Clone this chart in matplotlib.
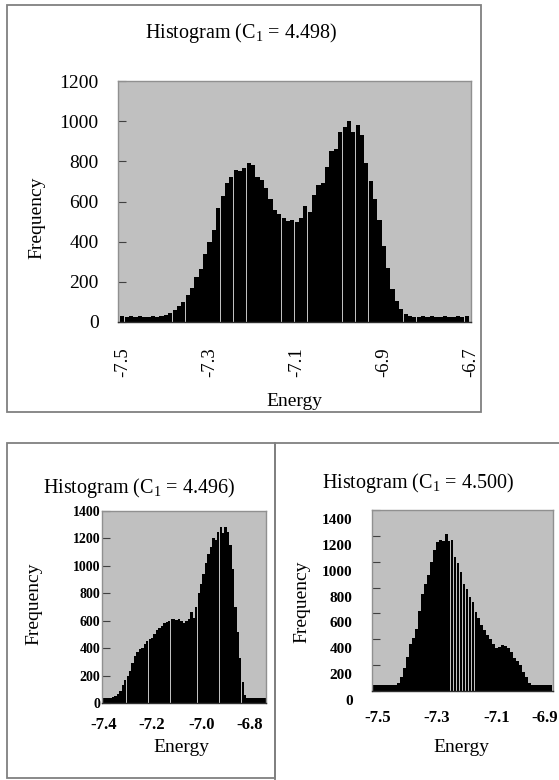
import numpy as np
import matplotlib
matplotlib.use('Agg')
import matplotlib.pyplot as plt
import matplotlib.transforms as mtransforms
from matplotlib.patches import Rectangle

plt.rcParams['font.family'] = ['Liberation Serif', 'DejaVu Serif']
plt.rcParams['mathtext.default'] = 'regular'

W, H = 559, 780
BIN = 0.01

# top panel: C1 = 4.498, bins centred from -7.50
top_first = -7.50
top_counts = [28, 27, 29, 26, 28, 27, 26, 29, 27,
              30, 35, 45, 58, 80, 100, 135, 170, 225, 265,
              340, 400, 460, 570, 625, 690, 720, 755, 750, 765,
              790, 780, 720, 705, 665, 610, 560, 540, 520, 505,
              510, 500, 520, 577, 550, 630, 680, 690, 770, 850,
              860, 945, 970, 1000, 945, 980, 930, 790, 700, 610,
              510, 380, 270, 165, 107, 66, 41, 28,
              27, 26, 28, 27, 29, 26, 27, 28, 26, 27, 29, 27, 28]

# bottom left: C1 = 4.496
bl_first = -7.40
bl_counts = [37, 36, 38, 40, 45, 50, 65, 90, 130, 165,
             200, 235, 290, 340, 375, 392, 400, 430, 455, 465,
             475, 500, 530, 550, 565, 580, 590, 600, 610, 615,
             605, 610, 595, 585, 600, 610, 660, 620, 700, 800,
             870, 940, 1020, 1090, 1140, 1200, 1190, 1250, 1280, 1240,
             1285, 1250, 1150, 980, 700, 520, 330, 150, 60, 40,
             38, 36, 37, 39, 36, 38, 37]

# bottom right: C1 = 4.500
br_first = -7.51
br_counts = [45, 44, 46, 45, 44, 46, 45, 48, 65, 105,
             180, 265, 365, 410, 480, 620, 750, 830, 900, 1000,
             1090, 1150, 1170, 1160, 1215, 1160, 1170, 1040, 990, 920,
             830, 790, 730, 690, 610, 565, 510, 470, 435, 400,
             360, 330, 340, 355, 350, 330, 300, 255, 235, 200,
             150, 110, 60, 45, 44, 46, 45, 44, 46, 45]

titles = ['Histogram (C$_1$ = 4.498)', 'Histogram (C$_1$ = 4.496)', 'Histogram (C$_1$ = 4.500)']
top_xticks = [-7.5, -7.3, -7.1, -6.9, -6.7]
top_xlabels = ['-7.5', '-7.3', '-7.1', '-6.9', '-6.7']
bl_xticks = [-7.4, -7.2, -7.0, -6.8]
bl_xlabels = ['-7.4', '-7.2', '-7.0', '-6.8']
# last label is pushed inside the axis, as in the original
br_xticks = [-7.5, -7.3, -7.1, -6.94]
br_xlabels = ['-7.5', '-7.3', '-7.1', '-6.9']


def fx(x):
    return x / W


def fy(y):
    return 1 - y / H


def box(x0, y0, x1, y1):
    r = Rectangle((fx(x0), fy(y1)), (x1 - x0) / W, (y1 - y0) / H,
                  transform=fig.transFigure, fill=False,
                  edgecolor='#808080', linewidth=1.3)
    fig.add_artist(r)


def panel(rect, first, counts, xlim, ylim, yticks, xticks, xlabels,
          xrot=0, xsize=12, ysize=14, xpad=4, ypad=2, bold=False):
    x0, y0, x1, y1 = rect
    ax = fig.add_axes([fx(x0), fy(y1), (x1 - x0) / W, (y1 - y0) / H])
    centers = np.round(first + BIN * np.arange(len(counts)), 3)
    ax.bar(centers, counts, width=BIN * 0.96, color='black', linewidth=0)
    ax.set_facecolor('#c0c0c0')
    ax.set_xlim(*xlim)
    ax.set_ylim(*ylim)
    ax.set_yticks(yticks)
    ax.set_xticks(xticks)
    w = 'bold' if bold else 'normal'
    ax.set_xticklabels(xlabels, rotation=xrot, fontsize=xsize, fontweight=w)
    ax.set_yticklabels([str(v) for v in yticks], fontsize=ysize, fontweight=w)
    ax.tick_params(axis='y', direction='in', length=6, color='#404040', pad=ypad)
    ax.tick_params(axis='x', length=0, pad=xpad)
    for s in ax.spines.values():
        s.set_color('#909090')
        s.set_linewidth(1.0)
    ax.spines['bottom'].set_color('#303030')
    return ax


fig = plt.figure(figsize=(W / 100, H / 100), dpi=100)

# panel borders
box(7, 5, 481, 412)
box(7, 443, 275, 778)
box(275, 443, 570, 790)

# top
ax1 = panel((118, 81, 471, 322), top_first, top_counts, (-7.51, -6.70), (0, 1200),
            list(range(0, 1201, 200)), top_xticks, top_xlabels,
            xrot=90, xsize=13.5, ysize=14, xpad=18, ypad=14)
for lab in ax1.get_xticklabels():
    lab.set_va('top')

# bottom left
ax2 = panel((102, 511, 266, 703), bl_first, bl_counts, (-7.405, -6.735), (0, 1400),
            list(range(0, 1401, 200)), bl_xticks, bl_xlabels,
            xsize=12, ysize=10, xpad=10, ypad=1, bold=True)

# bottom right
ax3 = panel((372, 510, 553, 691), br_first, br_counts, (-7.518, -6.912), (0, 1400),
            list(range(0, 1401, 200)), br_xticks, br_xlabels,
            xsize=12, ysize=11, xpad=14, ypad=14, bold=True)
shift = mtransforms.ScaledTranslation(0, -9 / 100, fig.dpi_scale_trans)
for lab in ax3.get_yticklabels():
    lab.set_transform(lab.get_transform() + shift)

# titles and axis labels
fig.text(fx(241), fy(33), titles[0], ha='center', va='center', fontsize=14.5)
fig.text(fx(139), fy(488), titles[1], ha='center', va='center', fontsize=14.5)
fig.text(fx(418), fy(483), titles[2], ha='center', va='center', fontsize=14.5)

for x, y in [(37, 218), (34, 604), (302, 602)]:
    fig.text(fx(x), fy(y), 'Frequency', rotation=90, ha='center', va='center', fontsize=14)
for x, y in [(294, 402), (181, 748), (461, 747)]:
    fig.text(fx(x), fy(y), 'Energy', ha='center', va='center', fontsize=14)

fig.savefig('out.png', dpi=100)
